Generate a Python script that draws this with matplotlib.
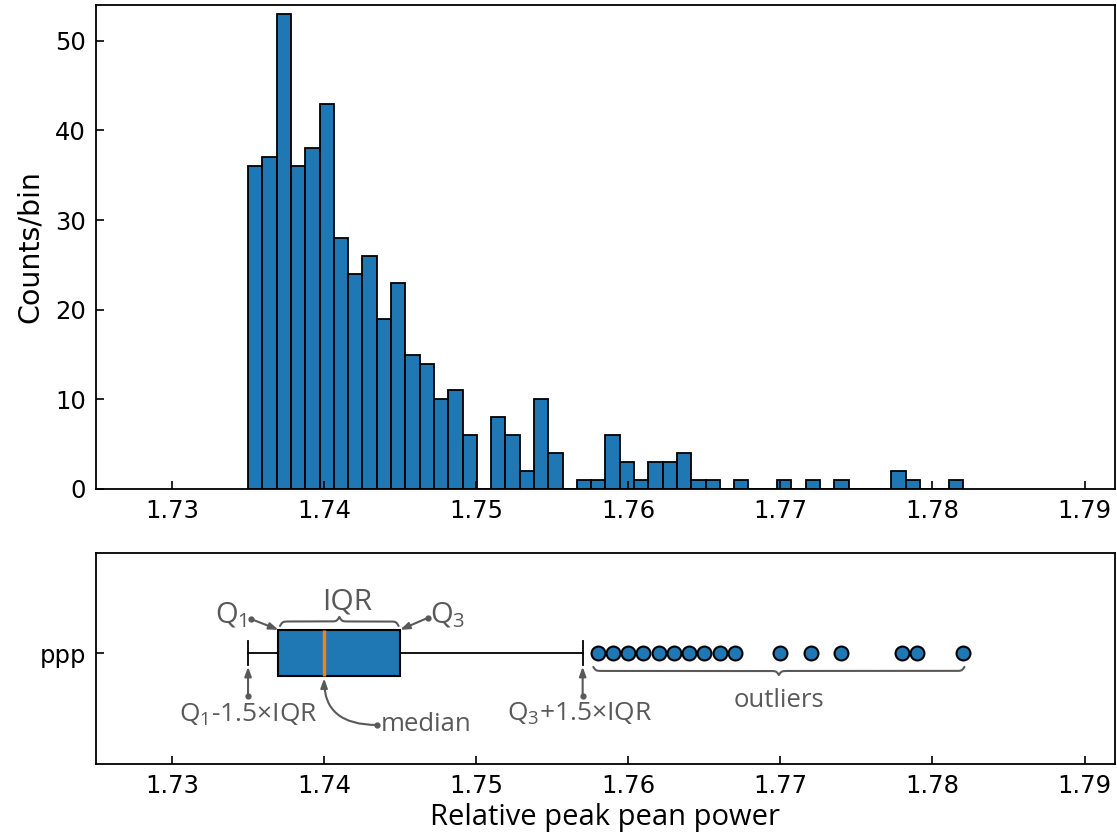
import numpy as np
import matplotlib
matplotlib.use('Agg')
import matplotlib.pyplot as plt

# histogram data: 50 equal bins between min and max of the data
data_min, data_max = 1.735, 1.782
n_bins = 50
counts = [36, 37, 53, 36, 38, 43, 28, 24, 26, 19, 23, 15, 14, 10, 11, 6, 0, 8, 6, 2,
          10, 4, 0, 1, 1, 6, 3, 1, 3, 3, 4, 1, 1, 0, 1, 0, 0, 1, 0, 1,
          0, 1, 0, 0, 0, 2, 1, 0, 0, 1]

# box plot statistics
q1, median, q3 = 1.737, 1.740, 1.745
whis_lo, whis_hi = 1.735, 1.757
outliers = [1.758, 1.759, 1.760, 1.761, 1.762, 1.763, 1.764, 1.765, 1.766, 1.767,
            1.770, 1.772, 1.774, 1.778, 1.779, 1.782]

xticks = [1.73, 1.74, 1.75, 1.76, 1.77, 1.78, 1.79]

BLUE = '#1f77b4'
GRAY = '#595959'

plt.rcParams['mathtext.fontset'] = 'custom'
plt.rcParams['mathtext.rm'] = 'Open Sans'
plt.rcParams['mathtext.it'] = 'Open Sans'

fig = plt.figure(figsize=(11.17, 8.38), dpi=100)
ax1 = fig.add_axes([0.0859, 0.4165, 0.9123, 0.5775])
ax2 = fig.add_axes([0.0859, 0.0883, 0.9123, 0.2518])

# --- histogram
edges = np.linspace(data_min, data_max, n_bins + 1)
ax1.hist(edges[:-1], bins=edges, weights=counts, color=BLUE,
         edgecolor='black', linewidth=1.3)
ax1.set_ylim(0, 54)
ax1.set_ylabel('Counts/bin', fontsize=20.5, labelpad=8)

# --- box plot
stats = [dict(med=median, q1=q1, q3=q3, whislo=whis_lo, whishi=whis_hi,
              fliers=outliers)]
ax2.bxp(stats, positions=[1], widths=0.22, orientation='horizontal',
        patch_artist=True,
        boxprops=dict(facecolor=BLUE, edgecolor='black', linewidth=1.5),
        medianprops=dict(color='#ff7f0e', linewidth=2.5),
        whiskerprops=dict(color='black', linewidth=1.3),
        capprops=dict(color='black', linewidth=1.3),
        flierprops=dict(marker='o', markerfacecolor=BLUE, markeredgecolor='black',
                        markersize=10, markeredgewidth=1.5))
ax2.set_ylim(0.474, 1.474)
ax2.set_yticks([1])
ax2.set_yticklabels(['ppp'], fontsize=20.5)
ax2.set_xlabel('Relative peak pean power', fontsize=21, family='Open Sans',
               labelpad=4)

for ax in (ax1, ax2):
    ax.set_xlim(1.725, 1.792)
    ax.set_xticks(xticks)
    ax.set_xticklabels([f'{t:.2f}' for t in xticks])
    ax.tick_params(direction='in', length=6, width=1.2, labelsize=17.5, pad=7)
    for s in ax.spines.values():
        s.set_linewidth(1.3)


def draw_brace(ax, x0, x1, y0, height, rise_px=5.0):
    p = ax.transData.transform([[x0, y0], [x1, y0]])
    length = p[1, 0] - p[0, 0]
    beta = 4.0 * length / rise_px
    t = np.linspace(0, 0.5, 400)
    half = 1 / (1 + np.exp(-beta * (t - t[0]))) + 1 / (1 + np.exp(-beta * (t - t[-1])))
    full = np.concatenate([half, half[-2::-1]]) - 0.5
    xs = np.concatenate([t, 1 - t[-2::-1]])
    ax.plot(x0 + (x1 - x0) * xs, y0 + height * full, color=GRAY, lw=1.5,
            solid_capstyle='round')


def pointer(ax, start, end, conn='arc3'):
    ax.annotate('', xy=end, xytext=start,
                arrowprops=dict(arrowstyle='-|>,head_length=0.55,head_width=0.2',
                                color=GRAY, lw=1.5, shrinkA=0, shrinkB=0,
                                connectionstyle=conn))
    ax.plot(*start, 'o', ms=3.5, color=GRAY)


box_top = 1.11
text_kw = dict(color=GRAY, family='Open Sans', ha='center', va='center')

# Q1 / IQR / Q3 labels above the box
ax2.text(q1 - 0.0031, 1.18, r'Q$_\mathrm{1}$', fontsize=21, **text_kw)
pointer(ax2, (q1 - 0.0018, 1.161), (q1, box_top))
ax2.text((q1 + q3) / 2 + 0.0005, 1.242, 'IQR', fontsize=21.5, **text_kw)
draw_brace(ax2, q1 + 0.0001, q3 - 0.0001, 1.128, 0.043)
ax2.text(q3 + 0.0031, 1.18, r'Q$_\mathrm{3}$', fontsize=21, **text_kw)
pointer(ax2, (q3 + 0.0018, 1.166), (q3, box_top))

# whisker limits
pointer(ax2, (whis_lo, 0.796), (whis_lo, 0.935))
ax2.text(whis_lo, 0.706, r'Q$_\mathrm{1}$-1.5×IQR', fontsize=19, **text_kw)
pointer(ax2, (whis_hi, 0.796), (whis_hi, 0.935))
ax2.text(whis_hi - 0.0002, 0.711, r'Q$_\mathrm{3}$+1.5×IQR', fontsize=19, **text_kw)

# median
pointer(ax2, (median + 0.00347, 0.659), (median, 0.88),
        conn='angle3,angleA=0,angleB=90')
ax2.text(median + 0.0037, 0.66, 'median', fontsize=18.5, color=GRAY,
         family='Open Sans', ha='left', va='center')

# outliers
draw_brace(ax2, outliers[0] - 0.0003, outliers[-1] + 0.0001, 0.934, -0.038)
ax2.text((outliers[0] + outliers[-1]) / 2 - 0.0001, 0.777, 'outliers',
         fontsize=18.5, **text_kw)

fig.savefig('out.png', dpi=100)
